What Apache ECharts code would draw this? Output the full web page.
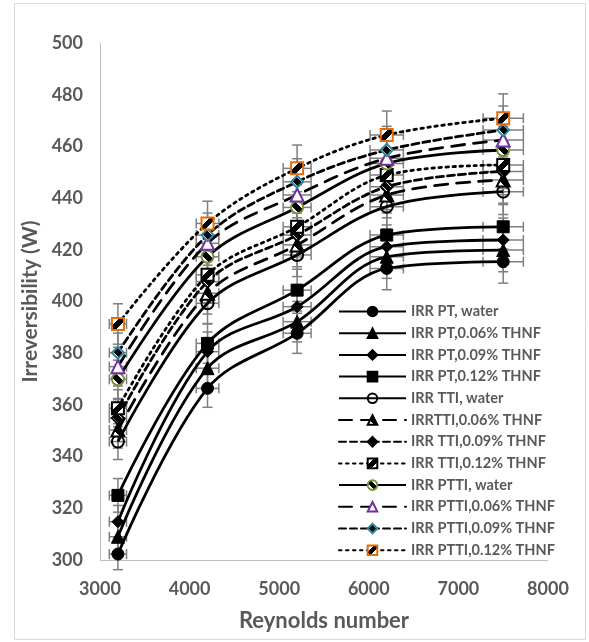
<!DOCTYPE html>
<html><head><meta charset="utf-8">
<script src="https://cdn.jsdelivr.net/npm/echarts@6/dist/echarts.min.js"></script>
<style>html,body{margin:0;padding:0;background:#fff}#c{width:589px;height:642px}</style>
</head><body><div id="c"></div>
<script>
const reynolds = [3200, 4200, 5200, 6200, 7500];
const ptWater   = [302.3, 366.4, 387.7, 412.8, 415.4];
const pt006     = [309.0, 374.2, 392.2, 417.3, 419.9];
const pt009     = [314.8, 380.6, 398.0, 421.2, 423.8];
const pt012     = [325.0, 383.8, 404.4, 425.7, 428.9];
const ttiWater  = [345.8, 399.3, 418.0, 436.7, 442.5];
const tti006    = [350.3, 403.2, 421.9, 441.2, 447.0];
const tti009    = [354.9, 407.7, 425.7, 444.4, 450.3];
const tti012    = [358.7, 410.3, 428.9, 448.9, 452.8];
const pttiWater = [369.9, 417.3, 436.4, 453.4, 458.6];
const ptti006   = [374.8, 422.5, 441.2, 455.4, 462.5];
const ptti009   = [380.2, 425.7, 446.3, 458.6, 466.3];
const ptti012   = [391.3, 430.2, 451.5, 464.4, 470.9];
const seriesNames = ["IRR PT, water","IRR PT,0.06% THNF","IRR PT,0.09% THNF","IRR PT,0.12% THNF",
  "IRR TTI, water","IRRTTI,0.06% THNF","IRR TTI,0.09% THNF","IRR TTI,0.12% THNF",
  "IRR PTTI, water","IRR PTTI,0.06% THNF","IRR PTTI,0.09% THNF","IRR PTTI,0.12% THNF"];
const ERR_Y = 0.02, ERR_X = 0.03;

const values = [ptWater,pt006,pt009,pt012,ttiWater,tti006,tti009,tti012,pttiWater,ptti006,ptti009,ptti012];
function stripe(dir){
  const g = dir==='/' ? {x:0,y:0,x2:1,y2:1} : {x:0,y:1,x2:1,y2:0};
  return Object.assign({type:'linear',colorStops:[
    {offset:0,color:'#fff'},{offset:0.36,color:'#fff'},{offset:0.36,color:'#000'},
    {offset:0.64,color:'#000'},{offset:0.64,color:'#fff'},{offset:1,color:'#fff'}]}, g);
}
const styles = [
  {sym:'circle', fill:'#000', border:'#000', dash:'solid'},
  {sym:'triangle', fill:'#000', border:'#000', dash:'solid'},
  {sym:'diamond', fill:'#000', border:'#000', dash:'solid'},
  {sym:'rect', fill:'#000', border:'#000', dash:'solid'},
  {sym:'circle', fill:'rgba(255,255,255,0)', border:'#000', dash:'solid'},
  {sym:'triangle', fill:stripe('\\'), border:'#000', dash:[13,9]},
  {sym:'diamond', fill:stripe('\\'), border:'#000', dash:[7,4]},
  {sym:'rect', fill:stripe('/'), border:'#000', dash:[2.5,4.5]},
  {sym:'circle', fill:stripe('\\'), border:'#77933C', dash:'solid'},
  {sym:'triangle', fill:'#fff', border:'#7030A0', dash:[13,9]},
  {sym:'diamond', fill:stripe('\\'), border:'#31859C', dash:[7,4]},
  {sym:'rect', fill:stripe('/'), border:'#E46C0A', dash:[2.5,4.5]}
];

const errData = [];
values.forEach(v => v.forEach((y,i) => errData.push([reynolds[i], y])));

const series = [{
  type:'custom', z:1, silent:true,
  renderItem(params, api){
    const x = api.value(0), y = api.value(1);
    const dy = y*ERR_Y, dx = x*ERR_X;
    const t = api.coord([x, y+dy]), b = api.coord([x, y-dy]);
    const l = api.coord([x-dx, y]), r = api.coord([x+dx, y]);
    const cap = 5;
    const st = {stroke:'#7F7F7F', lineWidth:1.5};
    const ln = (x1,y1,x2,y2) => ({type:'line', shape:{x1,y1,x2,y2}, style:st});
    return {type:'group', children:[
      ln(t[0],t[1],b[0],b[1]),
      ln(t[0]-cap,t[1],t[0]+cap,t[1]),
      ln(b[0]-cap,b[1],b[0]+cap,b[1]),
      ln(l[0],l[1],r[0],r[1]),
      ln(l[0],l[1]-cap,l[0],l[1]+cap),
      ln(r[0],r[1]-cap,r[0],r[1]+cap)
    ]};
  },
  data: errData
}];
values.forEach((v, k) => {
  const s = styles[k];
  series.push({
    name: seriesNames[k], type:'line', smooth:0.35, z:3,
    data: v.map((y,i) => [reynolds[i], y]),
    symbol: s.sym, symbolSize: s.sym==='triangle' ? 13 : 12,
    lineStyle:{color:'#000', width:2.8, type:s.dash, cap: s.dash==='solid'?'butt':'round'},
    itemStyle:{color:s.fill, borderColor:s.border, borderWidth: s.fill==='#000'?1:2},
    emphasis:{disabled:true}
  });
});

const font = 'Lato, "Open Sans", sans-serif';
const chart = echarts.init(document.getElementById('c'), null, {renderer:'canvas'});
chart.setOption({
  animation:false,
  backgroundColor:'#fff',
  graphic:[{type:'rect', shape:{x:14.5,y:3.5,width:571,height:636}, style:{fill:'none', stroke:'#D9D9D9', lineWidth:1}}],
  grid:{left:100, right:41, top:43, bottom:82},
  legend:{
    data: seriesNames, orient:'vertical', left:333, top:299,
    itemWidth:67, itemHeight:12, itemGap:6.7,
    textStyle:{color:'#595959', fontFamily:font, fontWeight:'bold', fontSize:14.5, lineHeight:15}
  },
  xAxis:{
    type:'value', min:3000, max:8000, interval:1000,
    name:'Reynolds number', nameLocation:'middle', nameGap:50,
    nameTextStyle:{color:'#595959', fontFamily:font, fontWeight:'bold', fontSize:22},
    axisLine:{lineStyle:{color:'#BFBFBF', width:1}}, axisTick:{show:false}, splitLine:{show:false},
    axisLabel:{color:'#595959', fontFamily:font, fontWeight:'bold', fontSize:18, margin:20,
      formatter: v => String(v)}
  },
  yAxis:{
    type:'value', min:300, max:500, interval:20,
    name:'Irreversibility (W)', nameLocation:'middle', nameGap:54,
    nameTextStyle:{color:'#595959', fontFamily:font, fontWeight:'bold', fontSize:21},
    axisLine:{show:true, lineStyle:{color:'#BFBFBF', width:1}}, axisTick:{show:false}, splitLine:{show:false},
    axisLabel:{color:'#595959', fontFamily:font, fontWeight:'bold', fontSize:18, margin:17}
  },
  series
});
</script></body></html>
